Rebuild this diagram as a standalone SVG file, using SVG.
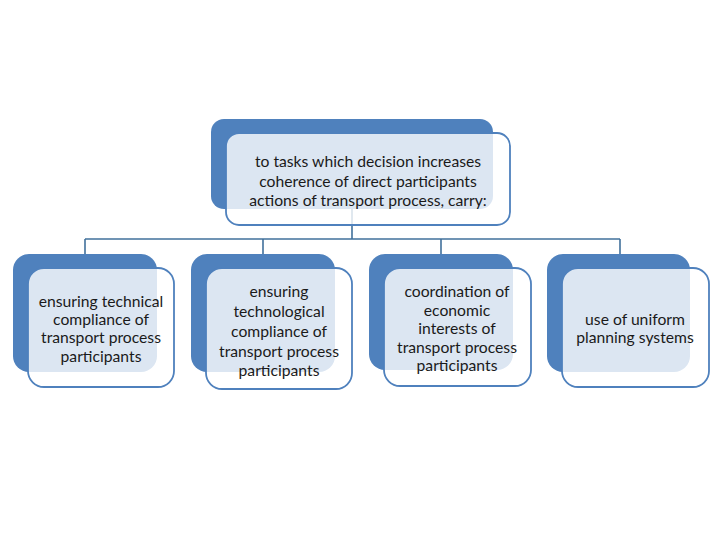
<svg xmlns="http://www.w3.org/2000/svg" width="720" height="540" viewBox="0 0 720 540">
<style>
.back{fill:#4f81bd;}
.front{fill:#ffffff;fill-opacity:0.8;stroke:#4f81bd;stroke-width:1.8;}
.conn{fill:none;stroke:#41719c;stroke-width:1.6;}
text{font-family:Lato,"Liberation Sans",sans-serif;font-size:15.7px;fill:#1a1a1a;text-anchor:middle;}
</style>
<rect width="720" height="540" fill="#ffffff"/>
<g id="connectors">
<path class="conn" d="M352 209 V239 M85 239 H620 M85 239 V254 M263 239 V254 M441 239 V254 M620 239 V254"/>
</g>
<g id="top">
<rect class="back" x="211" y="119" width="282" height="90" rx="13"/>
<rect class="front" x="226" y="133" width="284" height="92" rx="13"/>
<text x="368" y="167">to tasks which decision increases</text>
<text x="368" y="187">coherence of direct participants</text>
<text x="368" y="206">actions of transport process, carry:</text>
</g>
<g id="n1">
<rect class="back" x="13" y="254" width="144" height="118" rx="16"/>
<rect class="front" x="28" y="268" width="146" height="119" rx="16"/>
<text x="101" y="307">ensuring technical</text>
<text x="101" y="325">compliance of</text>
<text x="101" y="343">transport process</text>
<text x="101" y="362">participants</text>
</g>
<g id="n2">
<rect class="back" x="191" y="254" width="144" height="118" rx="16"/>
<rect class="front" x="206" y="268" width="146" height="121" rx="16"/>
<text x="279" y="297">ensuring</text>
<text x="279" y="317">technological</text>
<text x="279" y="337">compliance of</text>
<text x="279" y="357">transport process</text>
<text x="279" y="376">participants</text>
</g>
<g id="n3">
<rect class="back" x="369" y="254" width="144" height="116" rx="16"/>
<rect class="front" x="384" y="268" width="147" height="118" rx="16"/>
<text x="457" y="297">coordination of</text>
<text x="457" y="316">economic</text>
<text x="457" y="334">interests of</text>
<text x="457" y="353">transport process</text>
<text x="457" y="371">participants</text>
</g>
<g id="n4">
<rect class="back" x="547" y="254" width="143" height="118" rx="16"/>
<rect class="front" x="562" y="268" width="147" height="119" rx="16"/>
<text x="635" y="325">use of uniform</text>
<text x="635" y="343">planning systems</text>
</g>
</svg>
